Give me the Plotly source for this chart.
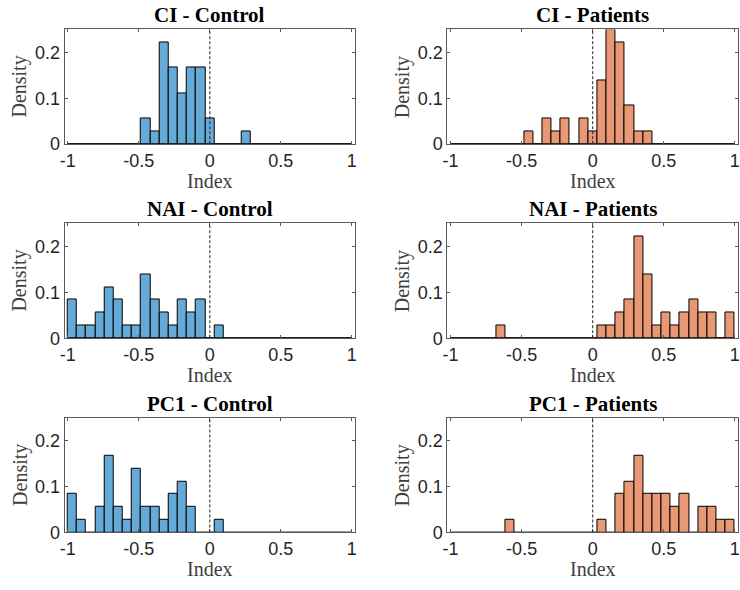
import numpy as np
import plotly.graph_objects as go
from plotly.subplots import make_subplots

# ---------------- data ----------------
X_MIN, X_MAX, N_BINS = -1.0, 1.0, 31
N_SUBJECTS = 36

ci_control   = [0,0,0,0,0,0,0,0, 2,1,8,6,4,6,6,2, 0,0,0,1, 0,0,0,0,0,0,0,0,0,0,0]
ci_patients  = [0,0,0,0,0,0,0,0, 1,0,2,1,2,0,2,1,5,9,8,3,1,1, 0,0,0,0,0,0,0,0,0]
nai_control  = [3,1,1,2,4,3,1,1,5,3,2,1,3,2,3,0,1, 0,0,0,0,0,0,0,0,0,0,0,0,0,0]
nai_patients = [0,0,0,0,0,1,0,0,0,0,0,0,0,0,0,0, 1,1,2,3,8,5,1,2,1,2,3,2,2,0,2]
pc1_control  = [3,1,0,2,6,2,1,5,2,2,1,3,4,2,0,0,1, 0,0,0,0,0,0,0,0,0,0,0,0,0,0]
pc1_patients = [0,0,0,0,0,0,1,0,0,0,0,0,0,0,0,0, 1,0,3,4,6,3,3,3,2,3,0,2,2,1,1]

titles = ["CI - Control", "CI - Patients",
          "NAI - Control", "NAI - Patients",
          "PC1 - Control", "PC1 - Patients"]
panels = [ci_control, ci_patients, nai_control, nai_patients, pc1_control, pc1_patients]

x_tickvals = [-1, -0.5, 0, 0.5, 1]
x_ticktext = ["-1", "-0.5", "0", "0.5", "1"]
y_tickvals = [0, 0.1, 0.2]
y_ticktext = ["0", "0.1", "0.2"]

# ---------------- style ----------------
BLUE = "rgb(102,170,215)"
ORANGE = "rgb(232,152,117)"
AXIS_COL = "#5a5a5a"
TXT_COL = "#262626"

edges = np.linspace(X_MIN, X_MAX, N_BINS + 1)
centers = (edges[:-1] + edges[1:]) / 2
bw = edges[1] - edges[0]

fig = make_subplots(rows=3, cols=2)

X_DOM = [[0.0815, 0.4774], [0.6036, 1.0]]
Y_DOM = [[0.7514, 0.9492], [0.4169, 0.6147], [0.0819, 0.2797]]

annotations = []
shapes = []
for i, (counts, title) in enumerate(zip(panels, titles)):
    r, c = i // 2, i % 2
    n = i + 1
    color = BLUE if c == 0 else ORANGE
    dens = np.array(counts) / N_SUBJECTS
    fig.add_trace(go.Bar(x=centers, y=dens, width=bw,
                         marker=dict(color=color, line=dict(color="black", width=1)),
                         hoverinfo="skip"), row=r + 1, col=c + 1)
    # zero-height bins draw a baseline across the binned range
    fig.add_trace(go.Scatter(x=[edges[0], edges[-1]], y=[0, 0], mode="lines",
                             line=dict(color="black", width=1.2), hoverinfo="skip"),
                  row=r + 1, col=c + 1)
    xa = "xaxis" if n == 1 else f"xaxis{n}"
    ya = "yaxis" if n == 1 else f"yaxis{n}"
    fig.layout[xa].update(domain=X_DOM[c], range=[-1.022, 1.022],
                          tickvals=x_tickvals, ticktext=x_ticktext,
                          ticks="inside", ticklen=3, tickcolor=AXIS_COL,
                          showline=True, linecolor=AXIS_COL, linewidth=1, mirror="ticks",
                          showgrid=False, zeroline=False,
                          tickfont=dict(family="Liberation Sans", size=18, color=TXT_COL))
    fig.layout[ya].update(domain=Y_DOM[r], range=[0, 0.25],
                          tickvals=y_tickvals, ticktext=y_ticktext,
                          ticks="inside", ticklen=3, tickcolor=AXIS_COL,
                          showline=True, linecolor=AXIS_COL, linewidth=1, mirror="ticks",
                          showgrid=False, zeroline=False,
                          tickfont=dict(family="Liberation Sans", size=18, color=TXT_COL))
    xr = "x" if n == 1 else f"x{n}"
    yr = "y" if n == 1 else f"y{n}"
    shapes.append(dict(type="line", xref=xr, yref=f"{yr} domain", x0=0, x1=0, y0=0, y1=1,
                       line=dict(color="#222", width=1, dash="3px,2px"), layer="above"))
    annotations.append(dict(text=f"<b>{title}</b>", xref=f"{xr} domain", yref=f"{yr} domain",
                            x=0.5, y=1, yshift=14, xanchor="center", yanchor="middle",
                            showarrow=False,
                            font=dict(family="Liberation Serif", size=21, color="black")))
    annotations.append(dict(text="Index", xref=f"{xr} domain", yref=f"{yr} domain",
                            x=0.5, y=0, yshift=-37, xanchor="center", yanchor="middle",
                            showarrow=False,
                            font=dict(family="Liberation Serif", size=20, color="#404040")))
    annotations.append(dict(text="Density", xref=f"{xr} domain", yref=f"{yr} domain",
                            x=0, y=0.5, xshift=-45, xanchor="center", yanchor="middle",
                            textangle=-90, showarrow=False,
                            font=dict(family="Liberation Serif", size=20, color="#404040")))

fig.update_layout(width=740, height=590, margin=dict(l=0, r=0, t=0, b=0),
                  paper_bgcolor="white", plot_bgcolor="white", showlegend=False,
                  bargap=0, annotations=annotations, shapes=shapes)

fig.write_html("out.html")
